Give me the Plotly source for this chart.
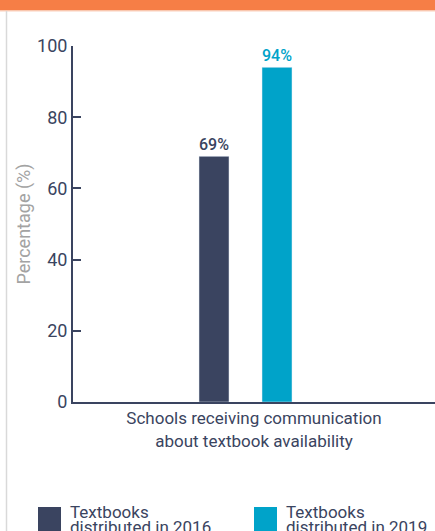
import plotly.graph_objects as go

categories = ["Schools receiving communication<br>about textbook availability"]
series_names = ["Textbooks<br>distributed in 2016", "Textbooks<br>distributed in 2019"]
values_2016 = [69]
values_2019 = [94]
y_ticks = [0, 20, 40, 60, 80, 100]
title_text = "Communication"

NAVY = "#3a4460"
CYAN = "#00a3c9"
ORANGE = "#f67e46"

W, H = 435, 531
L, R, T, B = 73, 0, 46, 129
pw, ph = W - L - R, H - T - B

def px(x):
    return (x - L) / pw

def py(y):
    return (H - B - y) / ph

fig = go.Figure()
fig.add_trace(go.Bar(x=categories, y=values_2016, name=series_names[0],
                     marker_color=NAVY, width=30 / pw, offset=(199 - 254) / pw,
                     texttemplate="%{y}%", textposition="outside",
                     textfont=dict(color=NAVY, size=17, family="Roboto", weight=500),
                     cliponaxis=False))
fig.add_trace(go.Bar(x=categories, y=values_2019, name=series_names[1],
                     marker_color=CYAN, width=30 / pw, offset=(262 - 254) / pw,
                     texttemplate="%{y}%", textposition="outside",
                     textfont=dict(color=CYAN, size=17, family="Roboto", weight=500),
                     cliponaxis=False))

shapes = [
    dict(type="rect", xref="paper", yref="paper", x0=px(0), x1=px(W), y0=py(10), y1=py(-5),
         fillcolor=ORANGE, line_width=0, layer="below"),
    dict(type="line", xref="paper", yref="paper", x0=px(0), x1=px(W), y0=py(10.8), y1=py(10.8),
         line=dict(color="#f7b08e", width=1)),
    dict(type="line", xref="paper", yref="paper", x0=px(6.5), x1=px(6.5), y0=py(11), y1=py(H + 5),
         line=dict(color="#d9d9d9", width=1.5)),
]
annotations = [
    dict(text="<b>" + title_text + "</b>", xref="paper", yref="paper", x=px(19), y=py(7.5),
         xanchor="left", yanchor="bottom", showarrow=False,
         font=dict(color="white", size=22, family="Open Sans")),
]
colors = [NAVY, CYAN]
sq_x = [38, 254]
for i, name in enumerate(series_names):
    shapes.append(dict(type="rect", xref="paper", yref="paper", x0=px(sq_x[i]), x1=px(sq_x[i] + 23),
                       y0=py(H + 10), y1=py(507), fillcolor=colors[i], line_width=0))
    for j, line in enumerate(name.split("<br>")):
        annotations.append(dict(text=line, xref="paper", yref="paper", x=px(sq_x[i] + 31),
                                y=py(501 + 15 * j), xanchor="left", yanchor="top", align="left",
                                showarrow=False, borderpad=0,
                                font=dict(color=NAVY, size=17, family="Roboto")))

fig.update_layout(
    width=W, height=H, margin=dict(l=L, r=R, t=T, b=B, pad=0),
    paper_bgcolor="white", plot_bgcolor="white",
    showlegend=False, barmode="overlay",
    font=dict(family="Roboto", color=NAVY, size=17),
    shapes=shapes, annotations=annotations,
    xaxis=dict(range=[-0.5, 0.5], showline=True, linecolor=NAVY, linewidth=2,
               ticks="", tickfont=dict(size=17, color=NAVY, family="Roboto"),
               showgrid=False, zeroline=False),
    yaxis=dict(range=[0, 100], tickvals=y_ticks, showline=True, linecolor=NAVY, linewidth=2,
               ticks="inside", ticklen=8, tickwidth=2, tickcolor=NAVY,
               tickfont=dict(size=18, color=NAVY, family="Roboto"),
               showgrid=False, zeroline=False,
               title=dict(text="Percentage (%)", font=dict(size=18, color="#a3a3a3", family="Roboto"),
                          standoff=2)),
)
fig.write_html("out.html")
